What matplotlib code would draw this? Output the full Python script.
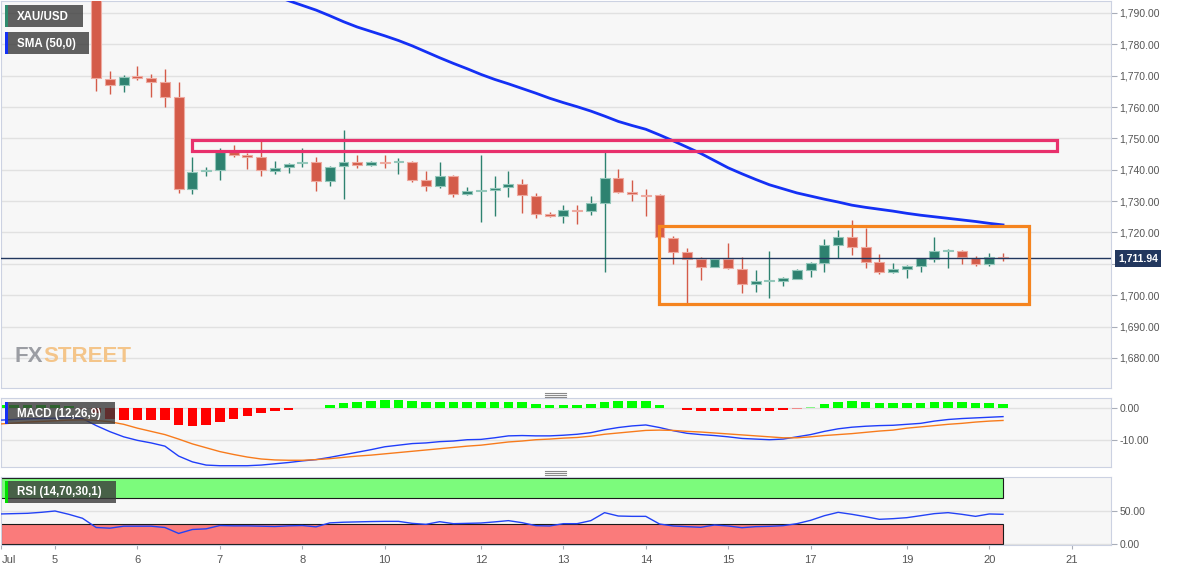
import matplotlib
matplotlib.use("Agg")
import matplotlib.pyplot as plt
import matplotlib.patches as patches
from matplotlib.lines import Line2D

plt.rcParams['font.family'] = ['Liberation Sans', 'DejaVu Sans']

W, H = 1182, 571

# 4-hour bars, index 0 = Jul 5 00:00 (weekend gap removed)
idx = list(range(-4, 70))
opens = [1807.0, 1808.0, 1810.0, 1806.0, 1807.0, 1805.0, 1802.0,
         1799.0, 1768.9, 1767.1, 1769.6, 1769.2, 1767.9, 1763.3, 1733.8, 1739.5, 1739.9,
         1745.8, 1744.7, 1743.9, 1739.7, 1741.0, 1742.0, 1742.4, 1736.5, 1741.2, 1742.4,
         1741.5, 1742.4, 1742.4, 1742.6, 1736.7, 1734.9, 1738.0, 1732.2, 1733.2, 1733.6,
         1734.4, 1735.5, 1731.7, 1725.8, 1725.4, 1727.2, 1726.9, 1729.5, 1737.5, 1733.0,
         1732.0, 1732.0, 1718.2, 1713.7, 1711.5, 1709.1, 1711.6, 1708.4, 1703.6, 1704.5,
         1704.6, 1705.2, 1708.0, 1710.2, 1715.9, 1718.7, 1715.3, 1710.5, 1707.5, 1708.3,
         1709.4, 1711.6, 1714.1, 1714.2, 1712.0, 1710.0, 1712.2]
highs = [1810.0, 1812.0, 1811.0, 1809.0, 1809.0, 1806.0, 1803.0,
         1800.5, 1771.5, 1770.1, 1773.0, 1770.5, 1772.0, 1768.1, 1744.0, 1741.0, 1746.9,
         1747.8, 1745.3, 1749.0, 1742.9, 1742.2, 1746.9, 1744.0, 1741.3, 1752.7, 1744.7,
         1742.8, 1744.7, 1743.7, 1742.9, 1739.7, 1742.6, 1738.3, 1734.4, 1744.7, 1738.0,
         1739.6, 1737.1, 1732.5, 1726.5, 1728.8, 1728.6, 1731.7, 1745.6, 1740.3, 1736.7,
         1733.9, 1732.3, 1718.9, 1715.0, 1712.3, 1711.8, 1716.6, 1712.3, 1708.0, 1714.1,
         1705.7, 1708.2, 1710.7, 1717.9, 1720.8, 1724.0, 1721.3, 1713.2, 1710.2, 1709.6,
         1711.9, 1718.5, 1714.7, 1714.4, 1712.5, 1713.4, 1713.4]
lows = [1805.0, 1806.0, 1805.0, 1803.0, 1804.0, 1800.0, 1797.0,
        1765.1, 1764.1, 1764.7, 1768.6, 1763.1, 1760.1, 1732.7, 1732.2, 1738.1, 1736.6,
        1744.2, 1740.2, 1738.0, 1738.7, 1739.1, 1741.0, 1733.3, 1734.8, 1730.6, 1740.5,
        1741.3, 1740.5, 1738.7, 1736.0, 1733.3, 1734.1, 1731.2, 1732.0, 1723.3, 1725.4,
        1731.4, 1726.1, 1724.5, 1724.8, 1723.0, 1722.7, 1725.6, 1707.3, 1732.5, 1730.1,
        1725.4, 1718.2, 1709.9, 1697.4, 1704.9, 1708.9, 1708.4, 1700.6, 1701.1, 1699.0,
        1703.0, 1705.0, 1705.9, 1707.5, 1711.8, 1712.8, 1708.8, 1706.7, 1707.0, 1705.4,
        1707.5, 1710.7, 1708.6, 1709.9, 1709.4, 1709.4, 1711.0]
closes = [1808.0, 1810.0, 1806.0, 1807.0, 1805.0, 1802.0, 1799.0,
          1769.1, 1767.1, 1769.6, 1769.4, 1767.9, 1763.3, 1733.8, 1739.4, 1739.9, 1745.8,
          1744.8, 1743.9, 1739.8, 1740.7, 1741.8, 1742.4, 1736.5, 1741.0, 1742.5, 1741.5,
          1742.5, 1742.2, 1742.8, 1736.7, 1734.9, 1738.0, 1732.2, 1733.2, 1733.5, 1734.3,
          1735.5, 1732.0, 1725.8, 1725.4, 1727.2, 1726.9, 1729.5, 1737.5, 1733.0, 1732.2,
          1731.7, 1718.4, 1713.7, 1711.6, 1709.1, 1711.6, 1708.6, 1703.6, 1704.5, 1704.8,
          1705.4, 1708.0, 1710.2, 1715.9, 1718.7, 1715.5, 1710.5, 1707.5, 1708.3, 1709.4,
          1711.8, 1714.1, 1714.3, 1712.1, 1710.0, 1712.1, 1711.94]

sma_idx = list(range(16, 70))
sma50 = [1795.5, 1793.9, 1792.4, 1790.9, 1789.1, 1787.2, 1785.5, 1784.1, 1782.7, 1781.2,
         1779.5, 1777.6, 1775.7, 1773.9, 1772.2, 1770.4, 1768.8, 1767.4, 1765.9, 1764.4,
         1762.8, 1761.4, 1760.1, 1758.7, 1757.1, 1755.4, 1754.1, 1752.9, 1751.1, 1749.2,
         1747.2, 1745.2, 1742.9, 1740.6, 1738.7, 1736.9, 1735.2, 1733.9, 1732.6, 1731.6,
         1730.6, 1729.7, 1728.7, 1728.0, 1727.4, 1726.8, 1726.1, 1725.5, 1725.0, 1724.5,
         1724.0, 1723.5, 1722.9, 1722.4]

macd = [-3.8, -3.6, -3.4, -3.3, -3.2, -3.1, -3.3, -5.5, -7.4, -9.0, -10.1, -10.9, -11.9,
        -15.0, -16.8, -17.8, -18.0, -18.0, -18.0, -17.8, -17.4, -17.0, -16.5, -16.1, -15.4,
        -14.6, -13.8, -13.0, -12.1, -11.6, -11.1, -10.9, -10.5, -10.3, -9.9, -9.8, -9.3,
        -8.7, -8.6, -8.7, -8.7, -8.5, -8.2, -7.7, -6.8, -6.1, -5.6, -5.3, -6.1, -7.1, -7.9,
        -8.3, -8.6, -9.0, -9.5, -9.7, -9.9, -9.7, -9.0, -8.3, -7.3, -6.5, -6.0, -5.7, -5.5,
        -5.4, -5.1, -4.8, -4.1, -3.6, -3.3, -3.1, -2.9, -2.7]
signal = [-5.0, -4.7, -4.4, -4.2, -4.0, -3.8, -3.7, -3.9, -4.3, -5.1, -6.3, -7.3, -8.3,
          -9.7, -11.2, -12.4, -13.6, -14.5, -15.3, -15.9, -16.2, -16.3, -16.3, -16.1, -15.8,
          -15.4, -15.0, -14.7, -14.3, -13.9, -13.5, -13.1, -12.7, -12.3, -11.9, -11.6, -11.1,
          -10.6, -10.3, -9.9, -9.7, -9.4, -9.2, -8.8, -8.2, -7.8, -7.4, -7.0, -6.9, -7.0,
          -7.3, -7.5, -7.8, -8.1, -8.4, -8.7, -9.0, -9.3, -9.3, -9.0, -8.6, -8.3, -8.0, -7.6,
          -7.2, -6.9, -6.3, -5.9, -5.5, -5.1, -4.8, -4.4, -4.1, -3.9]
hist = [1.0, 1.0, 1.0, 1.0, 1.0, 0.5, -0.4, -1.7, -3.3, -3.6, -3.6, -3.6, -3.6, -5.3,
        -5.5, -5.4, -4.3, -3.4, -2.4, -1.7, -1.1, -0.6, -0.15, 0.1, 0.9, 1.6, 2.0, 2.3, 2.5,
        2.6, 2.3, 2.0, 2.0, 1.8, 1.8, 1.8, 1.8, 2.0, 1.8, 1.2, 0.9, 0.9, 0.9, 1.2, 2.0, 2.1,
        2.1, 2.1, 1.0, 0.05, -0.6, -0.8, -0.8, -0.8, -1.1, -1.1, -0.9, -0.6, -0.3, 0.3, 1.2,
        2.0, 2.2, 1.9, 1.5, 1.4, 1.4, 1.5, 1.8, 1.9, 1.8, 1.4, 1.4, 1.3]
rsi = [45.5, 46.0, 46.5, 48.0, 50.0, 45.0, 39.0, 25.0, 24.0, 27.0, 27.0, 27.0, 25.0, 16.0,
       22.0, 23.0, 28.0, 27.5, 27.5, 27.0, 26.5, 27.5, 28.0, 26.0, 32.0, 33.0, 33.5, 34.0,
       34.3, 34.3, 31.3, 29.8, 33.8, 30.8, 31.3, 31.8, 33.5, 35.4, 32.3, 27.8, 27.3, 30.8,
       30.8, 35.4, 47.5, 42.4, 41.9, 41.9, 30.3, 27.3, 26.3, 25.3, 28.8, 27.3, 24.7, 26.3,
       26.8, 27.8, 30.8, 35.9, 42.9, 48.0, 45.0, 41.4, 37.4, 38.4, 39.9, 42.9, 46.0, 47.5,
       45.0, 41.9, 45.5, 45.0]

tick_pos = [-3.9, 0, 6, 12, 18, 24, 31, 37, 43, 49, 55, 62, 68, 74]
tick_lbl = ['Jul', '5', '6', '7', '8', '10', '12', '13', '14', '15', '17', '19', '20', '21']
price_ticks = list(range(1680, 1791, 10))

last_price = 1711.94
resist = (1746.1, 1749.6, 10.0, 72.9)   # low, high, from, to
rng_box = (1697.2, 1721.9, 43.96, 70.9)

UP, DN = '#2e8270', '#d45b49'
BG = '#f7f7f7'
SPINE = '#ccd2e2'


def fx(px):
    return px / W


def fy(py):
    return 1 - py / H


fig = plt.figure(figsize=(W / 100, H / 100), dpi=100, facecolor='white')
ax = fig.add_axes([fx(1), fy(388), fx(1111) - fx(1), fy(1) - fy(388)])
ax2 = fig.add_axes([fx(1), fy(467), fx(1111) - fx(1), fy(398) - fy(467)], sharex=ax)
ax3 = fig.add_axes([fx(1), fy(545), fx(1111) - fx(1), fy(477) - fy(545)], sharex=ax)

for a in (ax, ax2, ax3):
    a.set_facecolor(BG)
    for s in a.spines.values():
        s.set_color(SPINE)
    a.yaxis.tick_right()
    a.tick_params(axis='y', length=4, color='#a8adb8', labelsize=7.5, labelcolor='#555555', pad=2)
    a.grid(axis='y', color='#e1e1e1', lw=1)
    a.set_axisbelow(True)

ax.set_xlim(-3.93, 76.86)

# --- candles
for i, o, h, l, c in zip(idx, opens, highs, lows, closes):
    col = UP if c >= o else DN
    edge = '#93c7ba' if c >= o else '#eeaaa0'
    ax.vlines(i, l, h, color=col, lw=1, zorder=2)
    bot = min(o, c)
    ht = max(abs(c - o), 0.35)
    ax.add_patch(patches.Rectangle((i - 0.36, bot), 0.72, ht, facecolor=col,
                                   edgecolor=edge, lw=0.8, zorder=3))

ax.plot(sma_idx, sma50, color='#1430f5', lw=2, zorder=4)
ax.axhline(last_price, color='#22375e', lw=1, zorder=4)

lo, hi, x0, x1 = resist
ax.add_patch(patches.Rectangle((x0, lo), x1 - x0, hi - lo, fill=False,
                               edgecolor='#e8306c', lw=2.3, zorder=5))
lo, hi, x0, x1 = rng_box
ax.add_patch(patches.Rectangle((x0, lo), x1 - x0, hi - lo, fill=False,
                               edgecolor='#f5841f', lw=2.3, zorder=5))

ax.set_ylim(1670.4, 1793.8)
ax.set_yticks(price_ticks)
# the 1,710 label sits under the last-price tag
ax.set_yticklabels(['' if v == 1710 else f'{v:,.2f}' for v in price_ticks])
ax.tick_params(axis='x', bottom=False, labelbottom=False)

# --- MACD
hcols = []
for v in hist:
    if v >= 0:
        hcols.append('#00ff00' if v > 0.4 else '#86f586')
    else:
        hcols.append('#ff0000' if v < -0.4 else '#f08a8a')
ax2.bar(idx, hist, width=0.7, color=hcols, zorder=2)
ax2.plot(idx, macd, color='#1f3dfa', lw=1, zorder=3)
ax2.plot(idx, signal, color='#f77b1c', lw=1, zorder=3)
ax2.set_ylim(-18.4, 3.1)
ax2.set_yticks([0, -10])
ax2.set_yticklabels(['0.00', '-10.00'])
ax2.tick_params(axis='x', bottom=False, labelbottom=False)

# --- RSI
ax3.add_patch(patches.Rectangle((-3.93, 70), 69 + 3.93, 30, facecolor='#7cfb7c',
                                edgecolor='#1a1a1a', lw=0.8, zorder=1))
ax3.add_patch(patches.Rectangle((-3.93, 0), 69 + 3.93, 30, facecolor='#fa7b7b',
                                edgecolor='#1a1a1a', lw=0.8, zorder=1))
ax3.plot(idx, rsi, color='#2342f5', lw=1, zorder=3)
ax3.set_ylim(-1.5, 101.5)
ax3.set_yticks([0, 50])
ax3.set_yticklabels(['0.00', '50.00'])
ax3.set_xticks(tick_pos)
ax3.set_xticklabels(tick_lbl)
ax3.tick_params(axis='x', length=3, color='#a8adb8', labelsize=8, labelcolor='#555555', pad=4)
ax3.get_xticklabels()[0].set_ha('left')


# --- legend boxes
def label_box(top, width, text, stripe):
    fig.add_artist(patches.Rectangle((fx(5), fy(top + 22)), fx(width), 22 / H,
                                     transform=fig.transFigure, facecolor='#3a3a3a',
                                     alpha=0.8, edgecolor='none', zorder=10))
    fig.add_artist(patches.Rectangle((fx(5), fy(top + 22)), fx(2.5), 22 / H,
                                     transform=fig.transFigure, facecolor=stripe,
                                     edgecolor='none', zorder=11))
    fig.text(fx(17), fy(top + 11.5), text, color='white', fontsize=8.3, weight='bold',
             va='center', ha='left', zorder=12)


label_box(5, 78, 'XAU/USD', '#2e8b6e')
label_box(32, 84, 'SMA (50,0)', '#1430f5')
label_box(402, 110, 'MACD (12,26,9)', '#1430f5')
label_box(481, 111, 'RSI (14,70,30,1)', '#00e000')

# price tag
fig.text(fx(1118), fy(258.5), f'{last_price:,.2f}', color='white', fontsize=7.5,
         weight='bold', va='center', ha='left',
         bbox=dict(boxstyle='square,pad=0.3', facecolor='#22375e', edgecolor='none'))

# pane handles
for yy in (392.5, 394.5, 396.5, 470.5, 472.5, 474.5):
    fig.add_artist(Line2D([fx(545), fx(566)], [fy(yy), fy(yy)], color='#8a8a8a', lw=0.8))

# watermark
wm = dict(fontsize=16, weight='bold', va='center', ha='left',
          family=['Liberation Sans Narrow', 'Liberation Sans'])
t1 = fig.text(fx(15), fy(356), 'FX', color='#9b9da3', **wm)
r = fig.canvas.get_renderer()
bb = t1.get_window_extent(r)
fig.text(bb.x1 / W, fy(356), 'STREET', color='#f4c58a', **wm)

fig.savefig('out.png', dpi=100, facecolor='white')
